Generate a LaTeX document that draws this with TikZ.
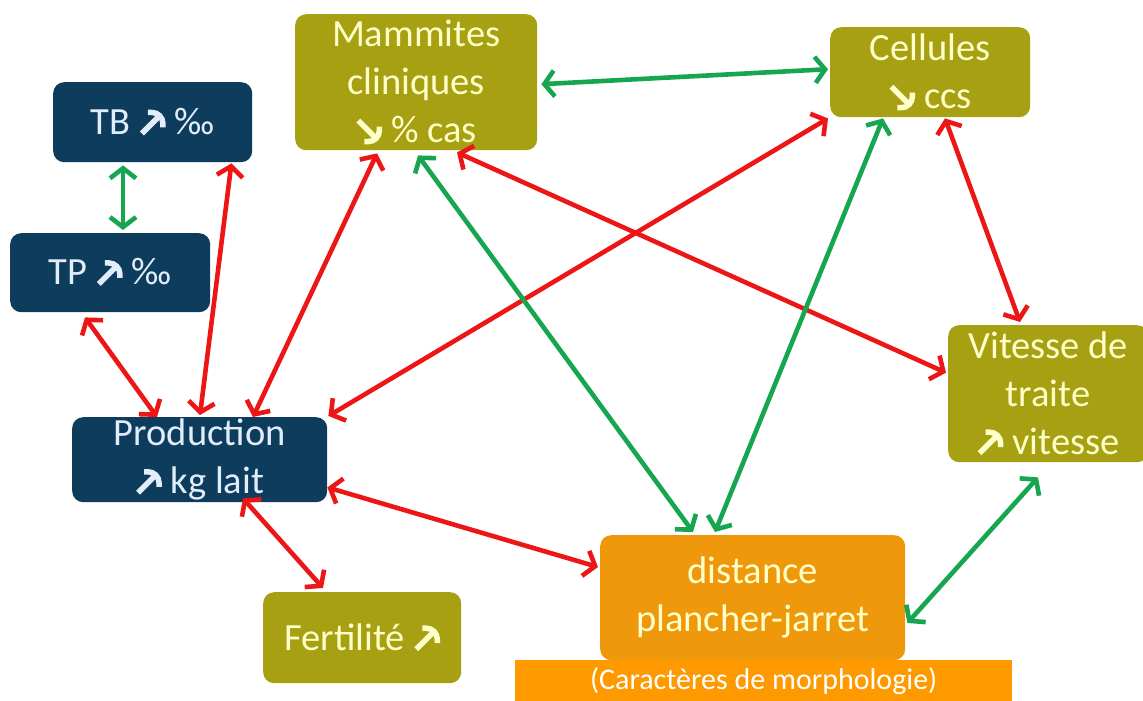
\documentclass[tikz,border=0pt]{standalone}
\usepackage{fontspec}
\setmainfont{Carlito}
\usetikzlibrary{arrows.meta,calc}

\definecolor{olivebox}{RGB}{166,160,18}
\definecolor{navybox}{RGB}{14,60,92}
\definecolor{orangebox}{RGB}{240,152,12}
\definecolor{bannerorange}{RGB}{255,153,0}
\definecolor{linkred}{RGB}{236,22,22}
\definecolor{linkgreen}{RGB}{22,166,80}
\definecolor{paletext}{RGB}{255,255,200}
\definecolor{icetext}{RGB}{225,238,250}

% heavy diagonal arrows used inside the labels
\newcommand{\uparr}{\tikz[baseline=0pt,x=1pt,y=1pt]{\draw[line width=5.5pt,
  line join=miter] (1,1) -- (20,20) (7,22) -- (22,22) -- (22,7);}\hspace{9pt}}
\newcommand{\downarr}{\tikz[baseline=0pt,x=1pt,y=1pt]{\draw[line width=5.5pt,
  line join=miter] (1,22) -- (20,3) (7,1) -- (22,1) -- (22,16);}\hspace{9pt}}

\tikzset{
  box/.style={rounded corners=11pt, inner sep=0pt, anchor=north west,
    align=center, font=\fontsize{38.5}{48}\selectfont},
  olive/.style={box, fill=olivebox, text=paletext},
  navy/.style={box, fill=navybox, text=icetext},
  amber/.style={box, fill=orangebox, text=paletext},
  link/.style={line width=4.6pt,
    arrows={Straight Barb[length=10pt,width=26pt]-Straight Barb[length=10pt,width=26pt]}},
  redlink/.style={link, draw=linkred},
  greenlink/.style={link, draw=linkgreen}
}

\begin{document}
\begin{tikzpicture}[x=1pt,y=-1pt]
\useasboundingbox (0,0) rectangle (1143,701);

% boxes
\node[olive, minimum width=242, minimum height=136] (mam) at (295,14)
  {Mammites\\cliniques\\\downarr\% cas};
\node[olive, minimum width=200, minimum height=90] (cel) at (830,27)
  {Cellules\\\downarr ccs};
\node[navy, minimum width=199, minimum height=80] (tb) at (53,82)
  {TB \uparr‰};
\node[navy, minimum width=200, minimum height=79] (tp) at (10,233)
  {TP \uparr‰};
\node[navy, minimum width=255, minimum height=85] (prod) at (72,417)
  {Production\\\uparr kg lait};
\node[olive, minimum width=200, minimum height=137] (vit) at (948,325)
  {Vitesse de\\traite\\\uparr vitesse};
\node[olive, minimum width=198, minimum height=91] (fer) at (263,592)
  {Fertilité \uparr\hspace{-9pt}};
\node[amber, minimum width=305, minimum height=125] (ora) at (600,535)
  {distance\\plancher-jarret};
\node[anchor=north west, fill=bannerorange, text=white, inner sep=0pt,
  minimum width=497, minimum height=41, font=\fontsize{30}{34}\selectfont]
  (banner) at (515,660) {(Caractères de morphologie)};

% links
\draw[greenlink] ($(mam.east)+(4,2)$) -- ($(cel.west)+(-2,-3)$);
\draw[greenlink] ($(tb.south west)+(70,3)$) -- ($(tp.north west)+(113,-3)$);
\draw[redlink] ($(tb.south east)+(-21,1)$) -- ($(prod.north west)+(128,-2)$);
\draw[redlink] ($(tp.south west)+(75,5)$) -- ($(prod.north west)+(85,0)$);
\draw[redlink] ($(mam.south west)+(82,3)$) -- ($(prod.north west)+(181,0)$);
\draw[redlink] ($(cel.south west)+(-2,1)$) -- ($(prod.north east)+(1,-1)$);
\draw[redlink] ($(mam.south west)+(162,2)$) -- ($(vit.west)+(-2,-21)$);
\draw[greenlink] ($(mam.south west)+(123,5)$) -- ($(ora.north west)+(93,-3)$);
\draw[greenlink] ($(cel.south west)+(53,1)$) -- ($(ora.north west)+(115,-3)$);
\draw[redlink] ($(cel.south west)+(115,1)$) -- ($(vit.north west)+(72,-3)$);
\draw[redlink] ($(prod.south east)+(0,-15)$) -- ($(ora.north west)+(-2,32)$);
\draw[redlink] ($(prod.south west)+(171,-4)$) -- ($(fer.north west)+(60,-4)$);
\draw[greenlink] ($(vit.south west)+(90,15)$) -- ($(ora.north east)+(2,88)$);
\end{tikzpicture}
\end{document}
